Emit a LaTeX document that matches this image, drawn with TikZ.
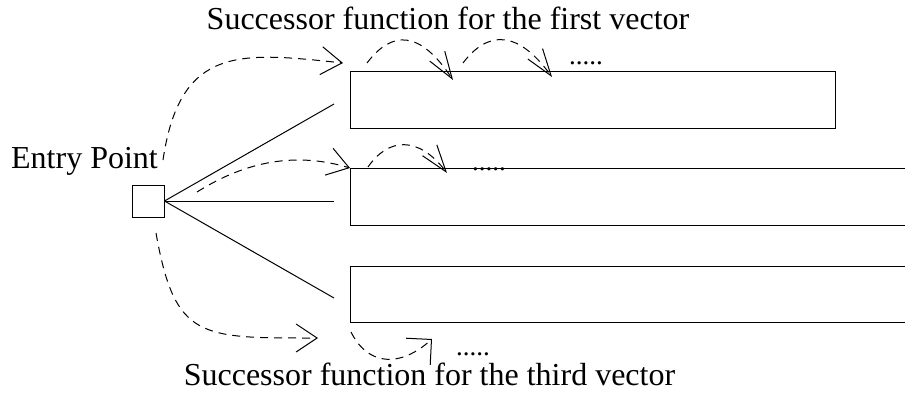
\documentclass[tikz,border=0pt]{standalone}
\usepackage{fontspec}
\setmainfont{Liberation Serif}
\usetikzlibrary{arrows.meta}
\begin{document}
\begin{tikzpicture}[x=1pt,y=-1pt,
  every path/.style={line width=1pt},
  label/.style={inner sep=0pt, anchor=base, font=\fontsize{32}{38}\selectfont},
  dots/.style={inner sep=0pt, anchor=base, font=\fontsize{27}{30}\selectfont},
  flow/.style={dash pattern=on 8pt off 6pt},
  entryarrow/.style={-{Straight Barb[length=21pt,width=28pt]}},
  succarrow/.style={-{Straight Barb[length=27pt,width=18pt]}},
  thirdarrow/.style={-{Straight Barb[length=18pt,width=36pt]}},
  vecbox/.style={inner sep=0pt, outer sep=0pt}]
\useasboundingbox (0,0) rectangle (905,396);

% texts
\node[label] (t1) at (448,30) {Successor function for the first vector};
\node[label] (t3) at (429.5,385) {Successor function for the third vector};
\node[label] (ept) at (84.5,168) {Entry Point};

% entry square
\node[draw, minimum size=32pt, inner sep=0pt] (ep) at (148,201) {};

% vectors
\node[draw, vecbox, minimum width=485pt, minimum height=56pt] (v1) at (592.5,100) {};
\node[vecbox, minimum width=555pt, minimum height=57pt] (v2) at (627.5,196.5) {};
\node[vecbox, minimum width=555pt, minimum height=56pt] (v3) at (627.5,294) {};
\draw (v2.north east) -- (v2.north west) -- (v2.south west) -- (v2.south east);
\draw (v3.north east) -- (v3.north west) -- (v3.south west) -- (v3.south east);

% solid connectors
\coordinate (e1) at (334,104);
\coordinate (e2) at (334,201);
\coordinate (e3) at (334,298);
\draw (ep.east) -- (e1);
\draw (ep.east) -- (e2);
\draw (ep.east) -- (e3);

% dashed entry arrows
\coordinate (s1) at (163,160);
\coordinate (a1) at (343,63);
\draw[flow, entryarrow] (s1) .. controls (180,45) and (240,52) .. (a1);

\coordinate (s2) at (197,192);
\draw[flow, entryarrow] (s2) .. controls (240,165) and (290,150) .. (v2.north west);

\coordinate (s3) at (156,233);
\coordinate (a3) at (318,338);
\draw[flow, entryarrow] (s3) .. controls (175,340) and (200,338) .. (a3);

% successor arcs, first vector
\coordinate (p1) at (367,63);
\coordinate (q1) at (453,80);
\draw[flow, succarrow] (p1) .. controls (392,30) and (420,30) .. (q1);
\coordinate (p2) at (463,63);
\coordinate (q2) at (552,77);
\draw[flow, succarrow] (p2) .. controls (488,30) and (518,30) .. (q2);
\node[dots] (d1) at (586,65) {.....};

% successor arc, second vector
\coordinate (p3) at (368,167);
\coordinate (q3) at (447,173);
\draw[flow, succarrow] (p3) .. controls (388,138) and (418,135) .. (q3);
\node[dots] (d2) at (489,170) {.....};

% successor arc, third vector
\coordinate (p4) at (351,332);
\coordinate (q4) at (432,339);
\draw[flow, thirdarrow] (p4) .. controls (368,366) and (400,368) .. (q4);
\node[dots] (d3) at (473,355) {.....};
\end{tikzpicture}
\end{document}
